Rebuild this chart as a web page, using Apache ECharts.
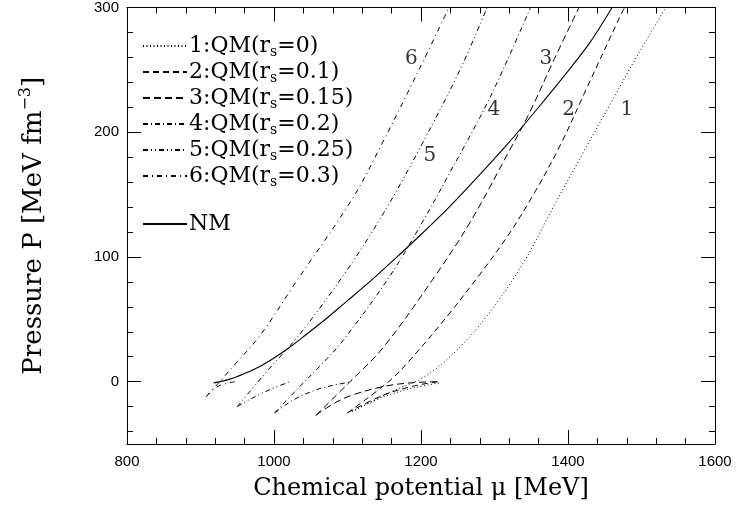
<!DOCTYPE html>
<html>
<head>
<meta charset="utf-8">
<script src="https://cdn.jsdelivr.net/npm/echarts@6/dist/echarts.min.js"></script>
<style>html,body{margin:0;padding:0;background:#fff}#c{width:736px;height:506px}</style>
</head>
<body>
<div id="c"></div>
<script>
// ---- data: [mu (MeV), P (MeV fm^-3)] ----
const nm = [[918,-1],[940,2],[960,6.5],[980,12],[1000,19],[1020,27],[1040,36],[1070,50],[1100,65],[1130,80],[1160,96],[1200,118],[1240,141],[1280,166],[1320,192],[1360,220],[1400,249],[1430,272],[1460,300]];

const qm1Upper = [[1106,-24],[1160,-8],[1205,4],[1250,26],[1294,56],[1340,96],[1380,140],[1420,183],[1457,222],[1490,257],[1533,300]];
const qm1Arc   = [[1106,-24],[1150,-12],[1190,-5],[1226,-1]];
const qm2Upper = [[1100,-25],[1158,1],[1189,20],[1235,52],[1280,86],[1317,116],[1352,149],[1389,189],[1426,236],[1471,293],[1477,300]];
const qm2Arc   = [[1100,-25],[1148,-11],[1190,-3.5],[1224,0]];
const qm3Upper = [[1057,-27],[1100,-2],[1148,27],[1216,82],[1267,128],[1321,186],[1348,216],[1380,257],[1415,300]];
const qm3Arc   = [[1057,-27],[1080,-18],[1103,-11.5],[1148,-4],[1185,-1],[1222,0]];
const qm4Upper = [[1001,-25],[1035,-4],[1065,14],[1094,33],[1158,85],[1203,129],[1235,163],[1294,228],[1349,300]];
const qm4Arc   = [[1001,-25],[1020,-17],[1035,-12],[1060,-6],[1080,-3],[1106,0]];
const qm5Upper = [[950,-20],[990,8],[1035,38],[1100,90],[1150,136],[1200,189],[1253,250],[1290,300]];
const qm5Arc   = [[950,-20],[965,-15],[981,-10],[1000,-5],[1022,0]];
const qm6Upper = [[908,-12],[944,12],[981,37],[1030,80],[1107,147],[1148,192],[1203,257],[1238,300]];
const qm6Arc   = [[908,-12],[920,-5],[935,-1.5],[948,0]];

const rsValues = ['0','0.1','0.15','0.2','0.25','0.3'];
const curveLabels = [['1',1480,218],['2',1401,218],['3',1370,259],['4',1299,218],['5',1212,181],['6',1187,259]];

const yMajor = [0,100,200,300];
const yMinor = [-40,-20,20,40,60,80,120,140,160,180,220,240,260,280];

// ---- styles ----
const dashTypes = [[1,2.5],[6,4],[7,4],[5,3,1,3],[5,3,1,3,1,3],[5,4,1,4]];
const serif = 'DejaVu Serif';
const sans = 'Liberation Sans';

const qmUpper = [qm1Upper,qm2Upper,qm3Upper,qm4Upper,qm5Upper,qm6Upper];
const qmArc = [qm1Arc,qm2Arc,qm3Arc,qm4Arc,qm5Arc,qm6Arc];
const qmNames = rsValues.map((r,i)=>'QM'+(i+1));

const series = [];
qmNames.forEach((name,i)=>{
  [qmUpper[i], qmArc[i]].forEach(d=>{
    series.push({type:'line', name:name, data:d, smooth:0.35, symbol:'none', silent:true,
      lineStyle:{color:'#000', width:1, type:dashTypes[i]}, itemStyle:{color:'#000'}});
  });
});
series.push({type:'line', name:'NM', data:nm, smooth:0.3, symbol:'none',
  lineStyle:{color:'#000', width:1.1, type:'solid'}, itemStyle:{color:'#000'}});
series.push({type:'scatter', name:'labels', symbolSize:0,
  data:curveLabels.map(c=>({value:[c[1],c[2]], name:c[0]})),
  label:{show:true, position:'inside', formatter:p=>p.name, fontFamily:serif, fontSize:20, color:'#000'}});

const richStyles = {
  t:{fontFamily:serif, fontSize:22, color:'#000', lineHeight:26},
  s:{fontFamily:serif, fontSize:14, color:'#000', verticalAlign:'bottom', lineHeight:26, padding:[9,0,0,0]}
};

function mkY(extra){return Object.assign({type:'value', min:-50, max:300, gridIndex:0, splitLine:{show:false},
  axisLine:{show:true, onZero:false, lineStyle:{color:'#000', width:1}}}, extra);}
function mkX(extra){return Object.assign({type:'value', min:800, max:1600, interval:200, gridIndex:0, splitLine:{show:false},
  axisLine:{show:true, onZero:false, lineStyle:{color:'#000', width:1}},
  minorTick:{show:true, splitNumber:5, length:6, lineStyle:{color:'#000'}}}, extra);}

const option = {
  animation:false,
  backgroundColor:'#fff',
  grid:{left:127, right:21, top:5, bottom:54},
  legend:[{
    data:qmNames, orient:'vertical', left:137, top:30, itemWidth:44, itemHeight:10, itemGap:2, selectedMode:false,
    itemStyle:{opacity:0},
    formatter:name=>{const i=qmNames.indexOf(name); return '{t|'+(i+1)+':QM(r}{s|s}{t|='+rsValues[i]+')}';},
    textStyle:{rich:richStyles, padding:[0,0,0,-3]}
  },{
    data:['NM'], orient:'vertical', left:137, top:208, itemWidth:44, itemHeight:10, selectedMode:false,
    itemStyle:{opacity:0},
    formatter:'{t|NM}', textStyle:{rich:richStyles, padding:[0,0,0,-3]}
  }],
  xAxis:[
    mkX({position:'bottom', name:'Chemical potential \u03bc [MeV]', nameLocation:'middle', nameGap:33,
      nameTextStyle:{fontFamily:serif, fontSize:24, color:'#000'},
      axisTick:{show:true, inside:true, length:14, lineStyle:{color:'#000'}},
      axisLabel:{show:true, fontFamily:sans, fontSize:15, color:'#000', margin:10, formatter:v=>String(v)}}),
    mkX({position:'top', axisTick:{show:true, inside:true, length:14, lineStyle:{color:'#000'}}, axisLabel:{show:false}})
  ],
  yAxis:[
    mkY({position:'left', name:'{n|Pressure P [MeV fm}{p|\u22123}{n|]}', nameLocation:'middle', nameGap:77,
      nameTextStyle:{rich:{n:{fontFamily:serif, fontSize:26, color:'#000', lineHeight:32},
                           p:{fontFamily:serif, fontSize:16, color:'#000', verticalAlign:'top', lineHeight:32, padding:[0,0,12,0]}}},
      axisTick:{show:true, inside:true, length:14, customValues:yMajor, lineStyle:{color:'#000'}},
      axisLabel:{show:true, customValues:yMajor, fontFamily:sans, fontSize:15, color:'#000', margin:8, formatter:v=>String(v)}}),
    mkY({position:'left', axisLine:{show:false}, axisTick:{show:true, inside:true, length:6, customValues:yMinor, lineStyle:{color:'#000'}}, axisLabel:{show:false}}),
    mkY({position:'right', axisTick:{show:true, inside:true, length:14, customValues:yMajor, lineStyle:{color:'#000'}}, axisLabel:{show:false}}),
    mkY({position:'right', axisLine:{show:false}, axisTick:{show:true, inside:true, length:6, customValues:yMinor, lineStyle:{color:'#000'}}, axisLabel:{show:false}})
  ],
  series:series
};
echarts.init(document.getElementById('c'), null, {renderer:'canvas'}).setOption(option);
</script>
</body>
</html>
